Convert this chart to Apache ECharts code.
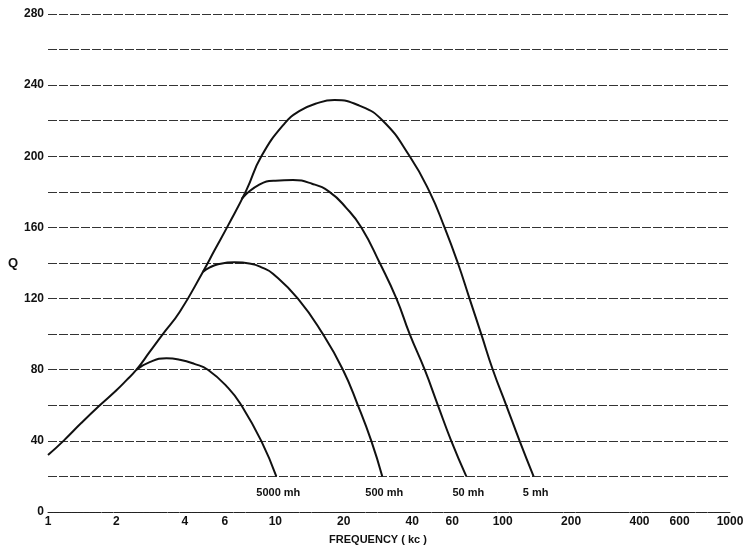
<!DOCTYPE html>
<html>
<head>
<meta charset="utf-8">
<script src="https://cdn.jsdelivr.net/npm/echarts@6/dist/echarts.min.js"></script>
<style>
html,body{margin:0;padding:0;background:#fff;}
#chart{width:748px;height:550px;}
</style>
</head>
<body>
<div id="chart"></div>
<script>
// Frequency (kc) tick labels and Q tick step
const xTickValues = [1, 2, 4, 6, 10, 20, 40, 60, 100, 200, 400, 600, 1000];
const yLabelStep = 40;

// 5 mh curve (includes the common rising envelope)
const freq5 = [1, 1.17, 1.4, 1.69, 2.0, 2.21, 2.45, 2.8, 3.2, 3.8, 4.8, 5.41, 6.19, 7.46, 8.68, 10.99, 12.79, 15, 18.2, 23.4, 29.7, 39, 47.7, 55.5, 63.5, 71.5, 80.5, 90.5, 103.7, 118.7, 136.8];
const q5 = [32, 40, 50, 60, 68.5, 74, 80, 90, 100, 112.6, 135, 147.3, 161, 181, 200, 218.5, 225.5, 229.5, 231.6, 228.5, 220, 200, 180, 160, 140, 120, 100, 80, 60, 40, 20];

// 50 mh curve
const freq50 = [7.1, 8.5, 10, 11.95, 14.5, 17.3, 20.5, 23.9, 28.8, 34.1, 39, 45.4, 51.9, 59.4, 69.2];
const q50 = [176, 184, 186.3, 186.6, 184.6, 180, 171, 160, 140, 120, 100, 80, 60, 40, 20];

// 500 mh curve
const freq500 = [4.8, 5.15, 5.6, 6.6, 7.8, 8.8, 9.76, 12.57, 16.19, 19.83, 23.08, 26.43, 29.55];
const q500 = [135, 137.5, 139.3, 140.4, 139.6, 137.3, 134, 120, 100, 80, 60, 40, 20];

// 5000 mh curve
const freq5000 = [2.45, 2.8, 3.32, 3.8, 4.4, 5.05, 6.2, 7.09, 8.67, 10.1];
const q5000 = [80, 84.3, 86.4, 85.6, 83.3, 80, 69.8, 60, 40, 20];

const curveNames = ['5000 mh', '500 mh', '50 mh', '5 mh'];

const FONT = '"Liberation Sans", "DejaVu Sans", sans-serif';

function pairs(xs, ys) {
  return xs.map(function (x, i) { return [x, ys[i]]; });
}

const curves = [
  [freq5000, q5000],
  [freq500, q500],
  [freq50, q50],
  [freq5, q5]
];

const series = curves.map(function (c, k) {
  return {
    name: curveNames[k],
    type: 'line',
    data: pairs(c[0], c[1]),
    smooth: 0.5,
    showSymbol: false,
    symbol: 'none',
    lineStyle: { color: '#111', width: 2 },
    emphasis: { disabled: true },
    endLabel: {
      show: true,
      formatter: '{a}',
      distance: 0,
      align: 'center',
      verticalAlign: 'middle',
      offset: [2, 17],
      color: '#111',
      fontFamily: FONT,
      fontWeight: 'bold',
      fontSize: 11,
      backgroundColor: '#fff',
      padding: [1, 2]
    },
    z: 3
  };
});

const chart = echarts.init(document.getElementById('chart'), null, { renderer: 'canvas' });
chart.setOption({
  backgroundColor: '#fff',
  animation: false,
  grid: { left: 48, right: 18, top: 14, bottom: 38 },
  xAxis: {
    type: 'log',
    logBase: 10,
    min: 1,
    max: 1000,
    name: 'FREQUENCY ( kc )',
    nameLocation: 'middle',
    nameGap: 22,
    nameTextStyle: { color: '#111', fontFamily: FONT, fontWeight: 'bold', fontSize: 11, padding: [0, 22, 0, 0] },
    axisLine: { show: true, lineStyle: { color: '#222', width: 1, type: [5, 1] } },
    axisTick: { show: false },
    splitLine: { show: false },
    minorSplitLine: { show: false },
    axisLabel: {
      customValues: xTickValues,
      formatter: function (v) { return String(Math.round(v)); },
      color: '#111',
      fontFamily: FONT,
      fontWeight: 'bold',
      fontSize: 12,
      margin: 4
    }
  },
  yAxis: {
    type: 'value',
    min: 0,
    max: 280,
    interval: 20,
    name: 'Q',
    nameLocation: 'middle',
    nameRotate: 0,
    nameGap: 28,
    nameTextStyle: { color: '#111', fontFamily: FONT, fontWeight: 'bold', fontSize: 13 },
    axisLine: { show: false },
    axisTick: { show: false },
    axisLabel: {
      color: '#111',
      fontFamily: FONT,
      fontWeight: 'bold',
      fontSize: 12,
      margin: 4,
      formatter: function (v) { return (v % yLabelStep === 0) ? String(v) : ''; }
    },
    splitLine: { show: true, lineStyle: { color: '#333', width: 1, type: [9, 2] } }
  },
  series: series
});
</script>
</body>
</html>
